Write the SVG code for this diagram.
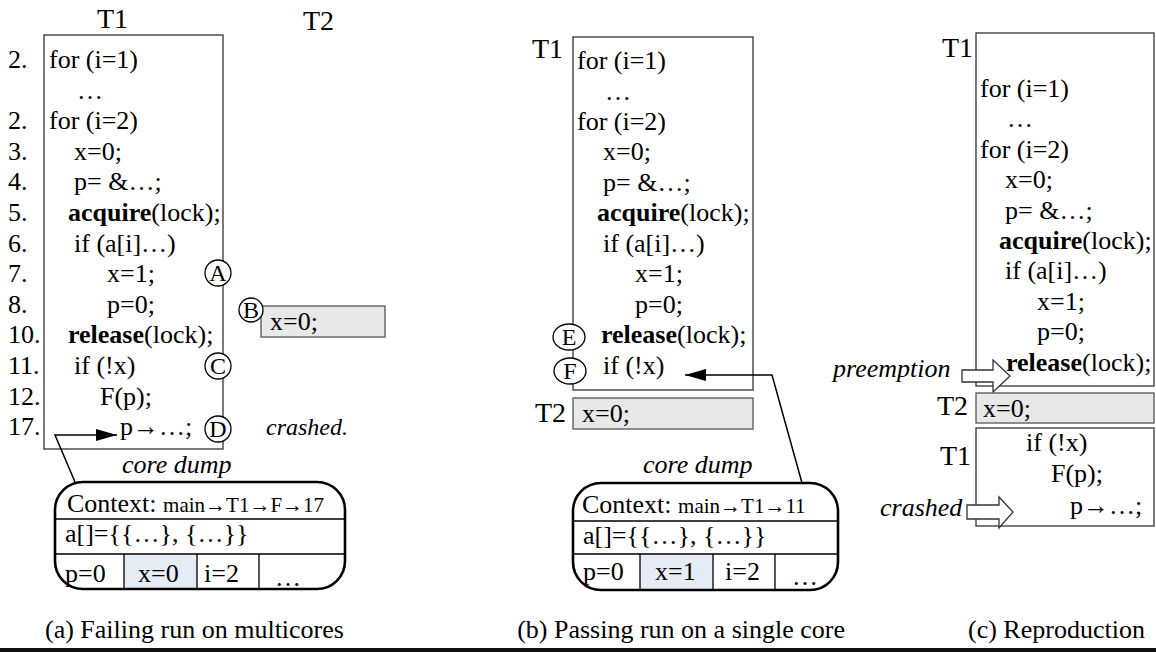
<svg xmlns="http://www.w3.org/2000/svg" width="1156" height="652" viewBox="0 0 1156 652">
<style>
text{font-family:"Liberation Serif","Times New Roman",serif;fill:#000}
.c{font-size:26px}
.b{font-weight:bold}
.it{font-style:italic}
.t{font-size:28px}
.sm{font-size:21px}
.el{font-size:24px;text-anchor:middle}
.cap{font-size:26px}
.box{fill:#fff;stroke:#333;stroke-width:1.3}
.gbox{fill:#e8e8e8;stroke:#555;stroke-width:1.3}
.ell{fill:#fff;stroke:#000;stroke-width:1.3}
.dump{fill:none;stroke:#000;stroke-width:2.6}
.ln{stroke:#000;stroke-width:1.3;fill:none}
.cell{fill:#e6ecf6}
.conn{fill:none;stroke:#000;stroke-width:1.5}
.blk{fill:#fff;stroke:#333;stroke-width:1.3}
</style>
<defs>
<marker id="ah" markerUnits="userSpaceOnUse" markerWidth="22" markerHeight="14" refX="21" refY="7" orient="auto">
<path d="M0,1 L21,7 L0,13 Z" fill="#000"/>
</marker>
</defs>

<!-- Panel (a) -->
<g id="a-labels">
<text class="t" x="97" y="28">T1</text>
<text class="t" x="303" y="30">T2</text>
</g>
<g id="a-T1">
<rect class="box" x="44" y="35" width="179" height="414"/>
<g class="c">
<text x="8" y="68">2.</text><text x="49" y="68">for (i=1)</text>
<text x="77" y="98.6">…</text>
<text x="8" y="129.2">2.</text><text x="49" y="129.2">for (i=2)</text>
<text x="8" y="159.8">3.</text><text x="74" y="159.8">x=0;</text>
<text x="8" y="190.4">4.</text><text x="74" y="190.4">p= &amp;…;</text>
<text x="8" y="221">5.</text><text x="68" y="221"><tspan class="b">acquire</tspan>(lock);</text>
<text x="8" y="251.6">6.</text><text x="74" y="251.6">if (a[i]…)</text>
<text x="8" y="282.2">7.</text><text x="107" y="282.2">x=1;</text>
<text x="8" y="312.8">8.</text><text x="107" y="312.8">p=0;</text>
<text x="8" y="343.4">10.</text><text x="68" y="343.4"><tspan class="b">release</tspan>(lock);</text>
<text x="8" y="374">11.</text><text x="74" y="374">if (!x)</text>
<text x="8" y="404.6">12.</text><text x="100" y="404.6">F(p);</text>
<text x="8" y="435.2">17.</text><text x="120" y="435.2">p→…;</text>
</g>
</g>
<g id="a-T2">
<rect class="gbox" x="261" y="306" width="124" height="31"/>
<text class="c" x="270" y="330">x=0;</text>
</g>
<g id="a-A"><ellipse class="ell" cx="218" cy="273" rx="13" ry="13"/><text class="el" x="218" y="281">A</text></g>
<g id="a-B"><ellipse class="ell" cx="251" cy="310" rx="12" ry="12"/><text class="el" x="251" y="318">B</text></g>
<g id="a-C"><ellipse class="ell" cx="218" cy="366" rx="13" ry="13"/><text class="el" x="218" y="374">C</text></g>
<g id="a-D"><ellipse class="ell" cx="218" cy="429" rx="13" ry="13"/><text class="el" x="218" y="437">D</text></g>
<g id="a-crashed"><text class="it" x="266" y="435" style="font-size:24px">crashed.</text></g>
<g id="a-dump">
<text class="c it" x="122" y="473">core dump</text>
<rect class="cell" x="124" y="554" width="73" height="34"/>
<rect class="dump" x="55" y="482" width="290" height="107" rx="28"/>
<path class="ln" d="M55,519 H345 M55,554 H345 M124,554 V589 M197,554 V589 M259,554 V589"/>
<text class="c" x="67" y="512">Context: <tspan class="sm">main→T1→F→17</tspan></text>
<text class="c" x="65" y="542">a[]={{…}, {…}}</text>
<text class="c" x="65" y="582">p=0</text>
<text class="c" x="138" y="582">x=0</text>
<text class="c" x="204" y="582">i=2</text>
<text class="c" x="275" y="586">…</text>
</g>

<!-- Panel (b) -->
<g id="b-T1">
<text class="t" x="532" y="58">T1</text>
<rect class="box" x="573" y="37" width="180" height="353"/>
<g class="c">
<text x="577" y="69">for (i=1)</text>
<text x="605" y="99.5">…</text>
<text x="577" y="130">for (i=2)</text>
<text x="603" y="160.4">x=0;</text>
<text x="603" y="190.8">p= &amp;…;</text>
<text x="597" y="221.3"><tspan class="b">acquire</tspan>(lock);</text>
<text x="603" y="251.7">if (a[i]…)</text>
<text x="635" y="282.2">x=1;</text>
<text x="635" y="312.6">p=0;</text>
<text x="601" y="343"><tspan class="b">release</tspan>(lock);</text>
<text x="603" y="373.5">if (!x)</text>
</g>
</g>
<g id="b-E"><ellipse class="ell" cx="569" cy="337" rx="16" ry="13"/><text class="el" x="569" y="345">E</text></g>
<g id="b-F"><ellipse class="ell" cx="570" cy="371" rx="16" ry="13"/><text class="el" x="570" y="379">F</text></g>
<g id="b-T2">
<text class="t" x="535" y="422">T2</text>
<rect class="gbox" x="573" y="398" width="180" height="31"/>
<text class="c" x="582" y="422">x=0;</text>
</g>
<g id="b-dump">
<text class="c it" x="643" y="473">core dump</text>
<rect class="cell" x="640" y="554" width="73" height="35"/>
<rect class="dump" x="573" y="483" width="265" height="107" rx="28"/>
<path class="ln" d="M573,521 H838 M573,554 H838 M640,554 V590 M713,554 V590 M775,554 V590"/>
<text class="c" x="582" y="513">Context: <tspan class="sm">main→T1→11</tspan></text>
<text class="c" x="583" y="544">a[]={{…}, {…}}</text>
<text class="c" x="583" y="580">p=0</text>
<text class="c" x="655" y="580">x=1</text>
<text class="c" x="725" y="580">i=2</text>
<text class="c" x="792" y="585">…</text>
</g>

<!-- Panel (c) -->
<g id="c-T1a">
<text class="t" x="942" y="57">T1</text>
<rect class="box" x="976" y="33" width="178" height="353"/>
<g class="c">
<text x="980" y="97">for (i=1)</text>
<text x="1007" y="127.4">…</text>
<text x="980" y="157.8">for (i=2)</text>
<text x="1005" y="188.2">x=0;</text>
<text x="1005" y="218.6">p= &amp;…;</text>
<text x="999" y="249"><tspan class="b">acquire</tspan>(lock);</text>
<text x="1005" y="279.4">if (a[i]…)</text>
<text x="1037" y="309.8">x=1;</text>
<text x="1037" y="340.2">p=0;</text>
<text x="1006" y="370.6"><tspan class="b">release</tspan>(lock);</text>
</g>
</g>
<g id="c-preemption">
<text class="c it" x="833" y="377">preemption</text>
<path class="blk" d="M962,370 H993 V360 L1010,376 L993,392 V382 H962 Z"/>
</g>
<g id="c-T2">
<text class="t" x="937" y="415">T2</text>
<rect class="gbox" x="976" y="393" width="178" height="30"/>
<text class="c" x="983" y="417">x=0;</text>
</g>
<g id="c-T1b">
<text class="t" x="940" y="465">T1</text>
<rect class="box" x="976" y="428" width="178" height="98"/>
<text class="c" x="1026" y="451">if (!x)</text>
<text class="c" x="1051" y="482">F(p);</text>
<text class="c" x="1070" y="514">p→…;</text>
</g>
<g id="c-crashed">
<text class="c it" x="880" y="516">crashed</text>
<path class="blk" d="M967,505 H999 V497 L1013,512 L999,528 V519 H967 Z"/>
</g>

<!-- Connectors -->
<g id="connectors">
<polyline class="conn" points="75,482 55,435 117,435" marker-end="url(#ah)"/>
<polyline class="conn" points="802,483 772,375 685,375" marker-end="url(#ah)"/>
</g>

<!-- Captions -->
<g id="captions">
<text class="cap" x="45" y="638">(a) Failing run on multicores</text>
<text class="cap" x="845" y="638" style="text-anchor:end">(b) Passing run on a single core</text>
<text class="cap" x="968" y="638">(c) Reproduction</text>
</g>
<rect x="0" y="648" width="1156" height="4" fill="#111"/>
</svg>
